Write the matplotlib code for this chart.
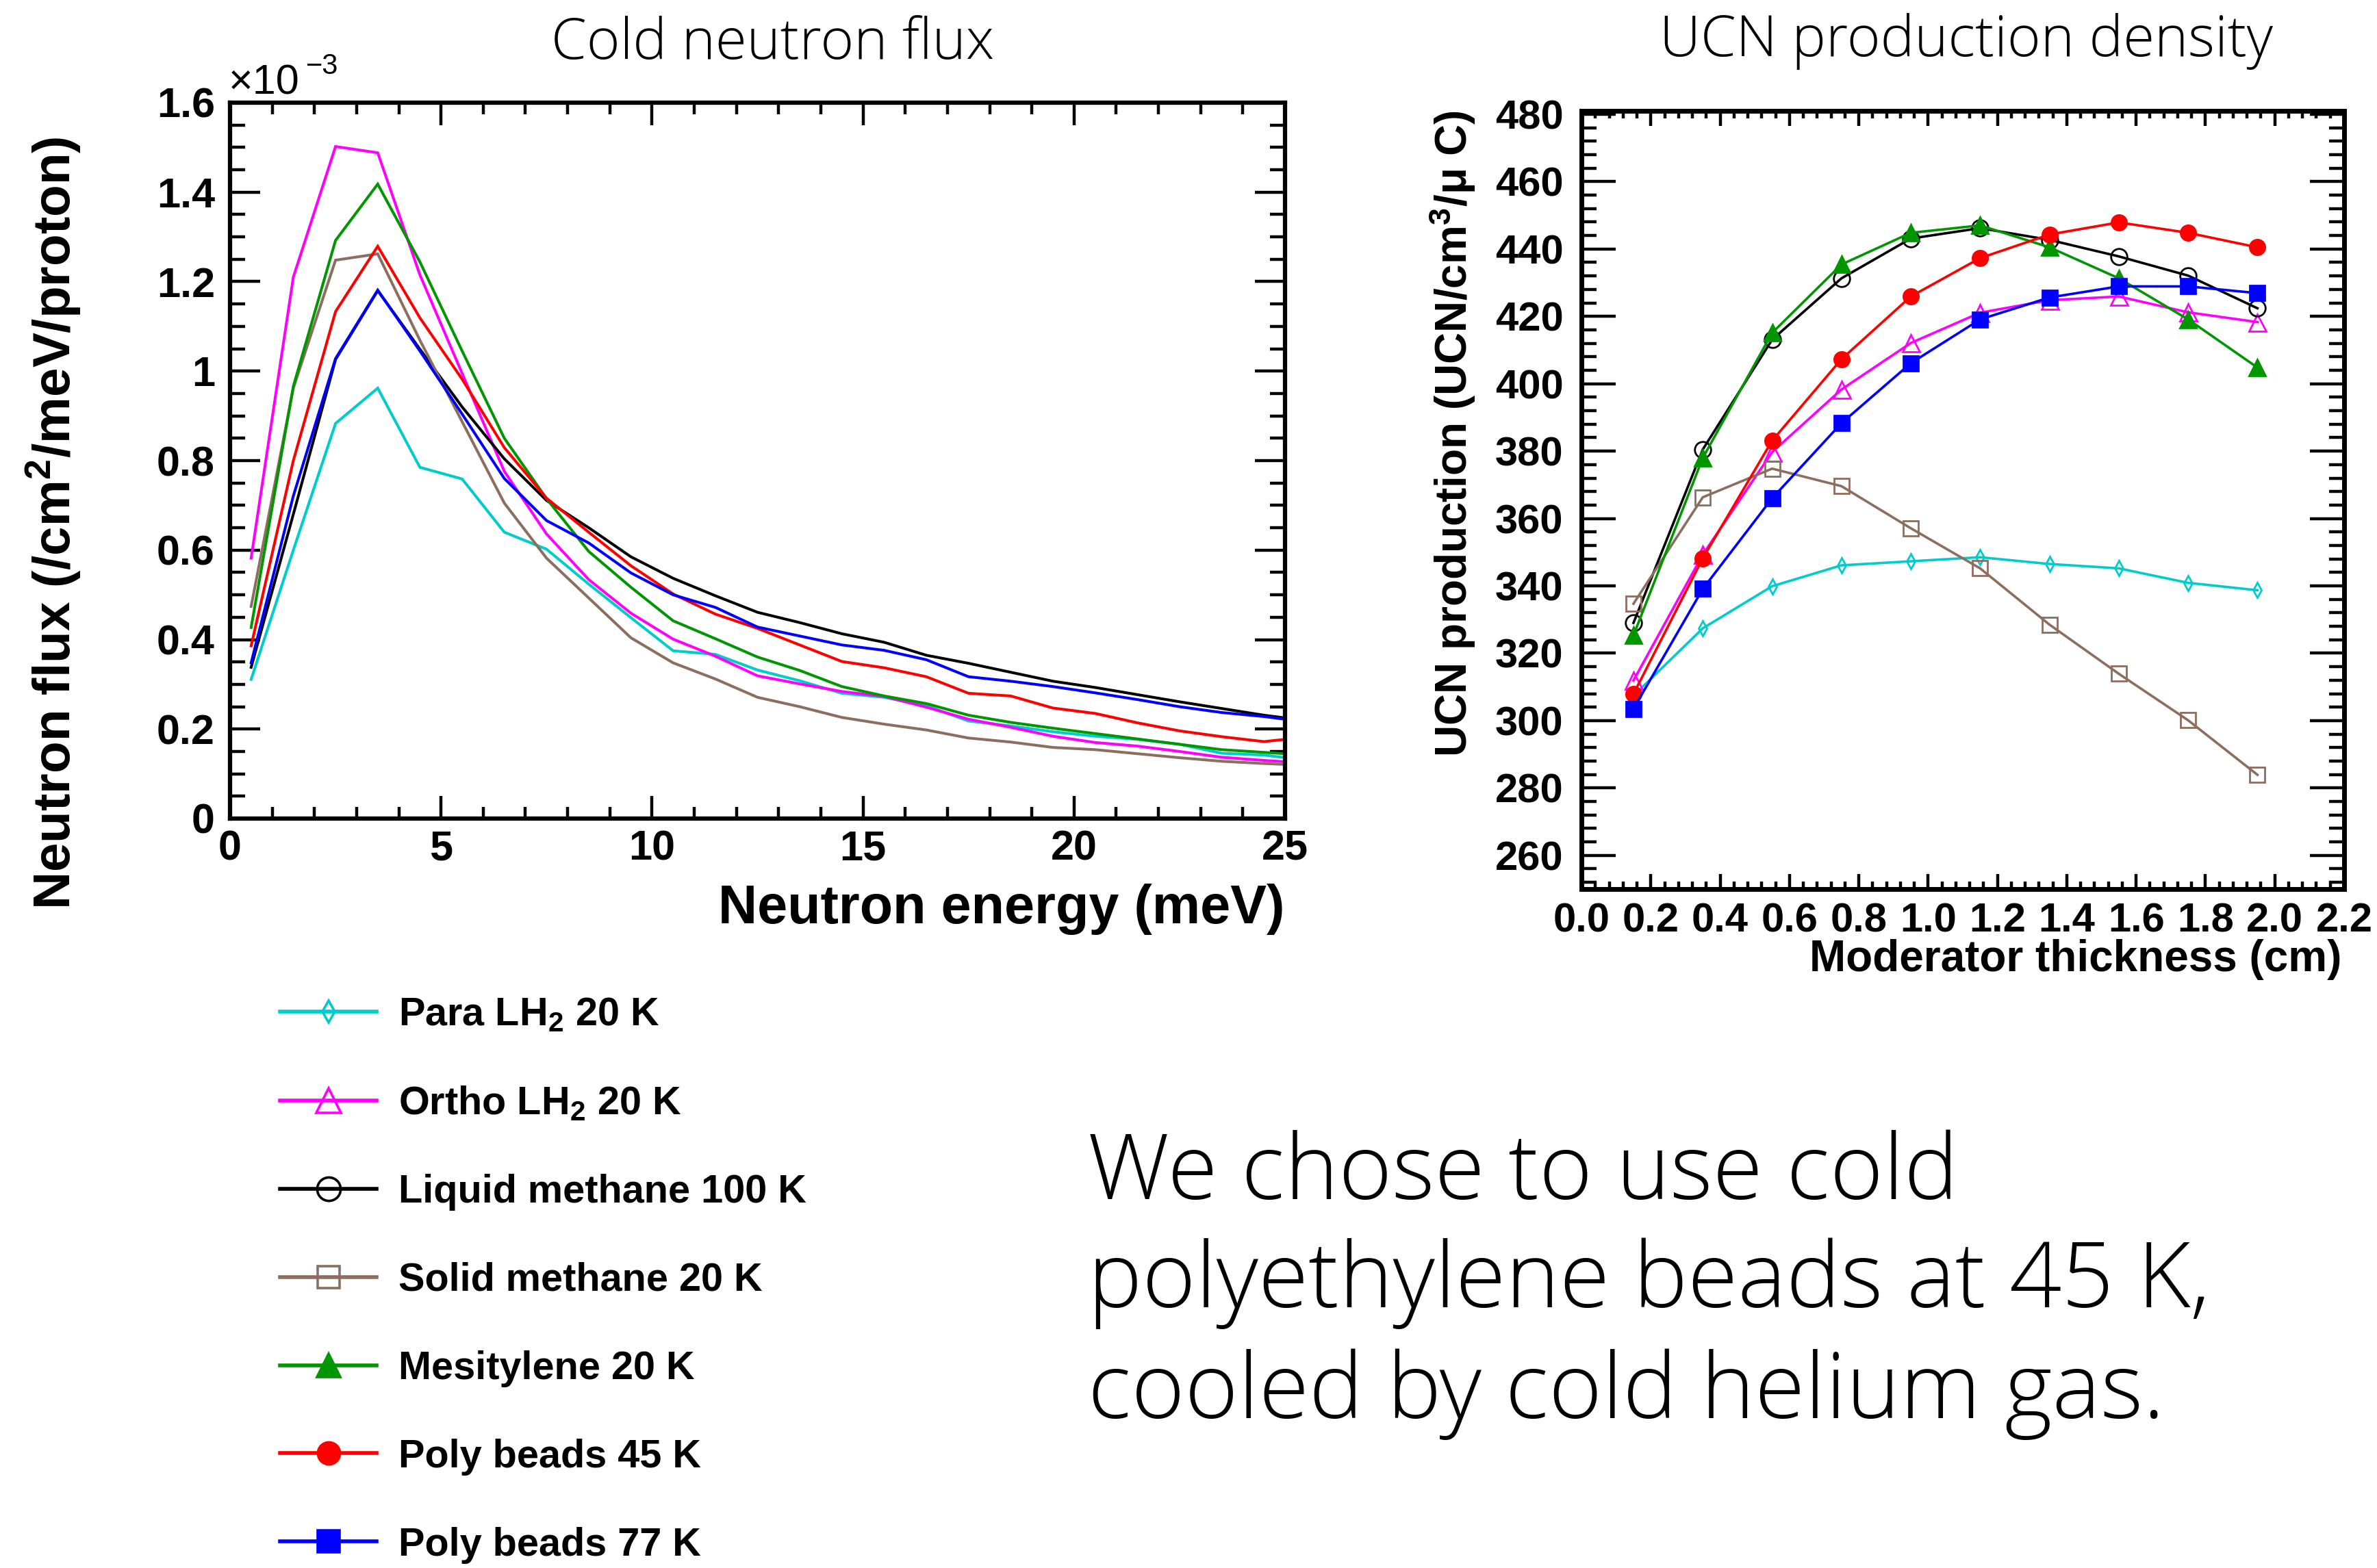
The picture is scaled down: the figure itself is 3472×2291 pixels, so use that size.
import matplotlib
matplotlib.use("Agg")
import matplotlib.pyplot as plt
from matplotlib.lines import Line2D
from matplotlib.ticker import AutoMinorLocator, FixedLocator, MultipleLocator
import numpy as np

plt.rcParams['font.family'] = 'Liberation Sans'
plt.rcParams['font.weight'] = 'bold'
plt.rcParams['mathtext.fontset'] = 'custom'
plt.rcParams['mathtext.rm'] = 'Liberation Sans:bold'
plt.rcParams['mathtext.it'] = 'Liberation Sans:bold'
plt.rcParams['mathtext.bf'] = 'Liberation Sans:bold'

LIGHT = 'Open Sans'

# ---- cold neutron flux spectra (units of 1e-3 /cm2/meV/proton), bin centres in meV
energy = np.arange(0.5, 26.0, 1.0)
flux_para = [0.311, 0.600, 0.883, 0.962, 0.785, 0.759, 0.640, 0.602, 0.524, 0.449, 0.375, 0.367, 0.332,
             0.308, 0.280, 0.271, 0.252, 0.218, 0.207, 0.194, 0.184, 0.177, 0.166, 0.146, 0.142, 0.130]
flux_ortho = [0.582, 1.210, 1.502, 1.488, 1.215, 0.995, 0.776, 0.636, 0.534, 0.459, 0.401, 0.363, 0.319,
              0.301, 0.284, 0.273, 0.249, 0.222, 0.204, 0.184, 0.170, 0.162, 0.150, 0.137, 0.130, 0.124]
flux_liqch4 = [0.338, 0.680, 1.026, 1.180, 1.049, 0.920, 0.804, 0.711, 0.650, 0.585, 0.537, 0.498, 0.461,
               0.438, 0.413, 0.394, 0.365, 0.347, 0.327, 0.307, 0.293, 0.277, 0.261, 0.246, 0.231, 0.219]
flux_solch4 = [0.474, 0.962, 1.248, 1.262, 1.069, 0.887, 0.705, 0.582, 0.493, 0.404, 0.348, 0.312, 0.271,
               0.250, 0.226, 0.211, 0.198, 0.180, 0.171, 0.159, 0.154, 0.145, 0.136, 0.128, 0.123, 0.119]
flux_mesit = [0.427, 0.966, 1.292, 1.418, 1.244, 1.045, 0.850, 0.715, 0.597, 0.517, 0.442, 0.402, 0.361,
              0.331, 0.295, 0.274, 0.257, 0.231, 0.215, 0.202, 0.190, 0.178, 0.166, 0.154, 0.148, 0.142]
flux_poly45 = [0.386, 0.800, 1.133, 1.279, 1.119, 0.982, 0.829, 0.716, 0.640, 0.565, 0.502, 0.457, 0.425,
               0.388, 0.351, 0.337, 0.317, 0.280, 0.274, 0.247, 0.235, 0.214, 0.196, 0.183, 0.172, 0.182]
flux_poly77 = [0.348, 0.721, 1.028, 1.181, 1.045, 0.904, 0.760, 0.666, 0.616, 0.549, 0.500, 0.472, 0.428,
               0.408, 0.388, 0.376, 0.355, 0.317, 0.307, 0.295, 0.281, 0.266, 0.250, 0.237, 0.228, 0.216]

# ---- UCN production density vs moderator thickness (cm)
thickness = [0.15, 0.35, 0.55, 0.75, 0.95, 1.15, 1.35, 1.55, 1.75, 1.95]
ucn_para = [307.4, 327.4, 339.9, 346.1, 347.3, 348.5, 346.5, 345.2, 340.9, 338.7]
ucn_ortho = [311.9, 349.3, 379.7, 398.3, 412.1, 421.1, 424.8, 425.9, 421.2, 418.3]
ucn_liqch4 = [329.0, 380.5, 413.1, 431.3, 443.1, 446.2, 442.7, 437.8, 432.1, 422.4]
ucn_solch4 = [334.7, 366.3, 374.8, 369.6, 357.1, 345.2, 328.5, 313.9, 300.1, 283.9]
ucn_mesit = [325.3, 378.0, 415.1, 435.4, 444.8, 447.0, 440.5, 431.3, 419.1, 404.8]
ucn_poly45 = [307.9, 348.2, 383.1, 407.3, 425.9, 437.3, 444.3, 447.9, 444.8, 440.5]
ucn_poly77 = [303.5, 339.1, 366.0, 388.3, 406.1, 419.1, 425.6, 428.9, 428.9, 426.9]

labels = ['Para LH$_2$ 20 K', 'Ortho LH$_2$ 20 K', 'Liquid methane 100 K', 'Solid methane 20 K',
          'Mesitylene 20 K', 'Poly beads 45 K', 'Poly beads 77 K']
colors = ['#00CCCC', '#FF00FF', '#000000', '#8C6E5F', '#009600', '#FF0000', '#0000FF']
markers = ['d', '^', 'o', 's', '^', 'o', 's']
filled = [False, False, False, False, True, True, True]
msizes = [11, 18, 17, 16, 17, 16, 16]

flux_sets = [flux_para, flux_ortho, flux_liqch4, flux_solch4, flux_mesit, flux_poly45, flux_poly77]
ucn_sets = [ucn_para, ucn_ortho, ucn_liqch4, ucn_solch4, ucn_mesit, ucn_poly45, ucn_poly77]

W, H = 3472, 2291
fig = plt.figure(figsize=(W / 100, H / 100), dpi=100)


def frac_x(px):
    return px / W


def frac_y(px):
    return 1 - px / H


# ---------------- left: flux spectra ----------------
ax1 = fig.add_axes([frac_x(336), frac_y(1196), (1877 - 336) / W, (1196 - 150) / H])
for y, c in zip(flux_sets, colors):
    ax1.plot(energy, y, color=c, lw=2.9, solid_joinstyle='miter')
ax1.set_xlim(0, 25)
ax1.set_ylim(0, 1.6)
ax1.xaxis.set_major_locator(MultipleLocator(5))
ax1.xaxis.set_minor_locator(AutoMinorLocator(5))
ax1.yaxis.set_major_locator(FixedLocator(np.arange(0, 1.61, 0.2)))
ax1.set_yticklabels(['0', '0.2', '0.4', '0.6', '0.8', '1', '1.2', '1.4', '1.6'])
ax1.yaxis.set_minor_locator(AutoMinorLocator(4))
ax1.tick_params(which='both', direction='in', top=True, right=True, width=3.2, labelsize=44)
ax1.tick_params(axis='x', which='major', length=24, pad=12)
ax1.tick_params(axis='x', which='minor', length=12)
ax1.tick_params(axis='y', which='major', length=32, pad=16)
ax1.tick_params(axis='y', which='minor', length=16)
for s in ax1.spines.values():
    s.set_linewidth(4.5)

# exponent of the flux axis
fig.text(frac_x(334), frac_y(138), '×10', fontsize=44, weight='normal', ha='left', va='baseline')
fig.text(frac_x(447), frac_y(108), '−3', fontsize=30, weight='normal', ha='left', va='baseline')
fig.text(frac_x(78), frac_y(764), 'Neutron flux (/cm$^2$/meV/proton)', fontsize=55,
         rotation=90, ha='center', va='center')
fig.text(frac_x(1877), frac_y(1328), 'Neutron energy (meV)', fontsize=57, ha='right', va='center')
fig.text(frac_x(1129), frac_y(86), 'Cold neutron flux', fontsize=60, family=LIGHT,
         weight='light', ha='center', va='baseline')

# ---------------- right: UCN production ----------------
ax2 = fig.add_axes([frac_x(2310), frac_y(1299), (3424 - 2310) / W, (1299 - 162) / H])
for y, c, m, f, ms in zip(ucn_sets, colors, markers, filled, msizes):
    ax2.plot(thickness, y, color=c, lw=2.6, marker=m, ms=ms, mew=2.0,
             mfc=c if f else 'none', mec=c, clip_on=False)
ax2.set_xlim(0, 2.2)
ax2.set_ylim(250, 481)
ax2.xaxis.set_major_locator(MultipleLocator(0.2))
ax2.xaxis.set_minor_locator(AutoMinorLocator(5))
ax2.xaxis.set_major_formatter(matplotlib.ticker.FormatStrFormatter('%.1f'))
ax2.yaxis.set_major_locator(FixedLocator(np.arange(260, 481, 20)))
ax2.yaxis.set_minor_locator(MultipleLocator(4))
ax2.tick_params(which='both', direction='in', top=True, right=True, width=3.2, labelsize=43)
ax2.tick_params(axis='x', which='major', length=16, pad=14)
ax2.tick_params(axis='x', which='minor', length=8)
ax2.tick_params(axis='y', which='major', length=36, pad=19)
ax2.tick_params(axis='y', which='minor', length=16)
for s in ax2.spines.values():
    s.set_linewidth(5)

fig.text(frac_x(2121), frac_y(633), 'UCN production (UCN/cm$^3$/μ C)', fontsize=46,
         rotation=90, ha='center', va='center')
fig.text(frac_x(3420), frac_y(1402), 'Moderator thickness (cm)', fontsize=46, ha='right', va='center')
fig.text(frac_x(2872), frac_y(82), 'UCN production density', fontsize=60, family=LIGHT,
         weight='light', ha='center', va='baseline')

# ---------------- legend ----------------
handles = [Line2D([], [], color=c, lw=4, marker=m, ms=ms * 1.45, mew=2.6,
                  mfc=c if f else 'none', mec=c)
           for c, m, f, ms in zip(colors, markers, filled, msizes)]
fig.legend(handles, labels, loc='upper left', bbox_to_anchor=(frac_x(409), frac_y(1456)),
           frameon=False, fontsize=41.5, handlelength=2.45, handletextpad=0.55,
           labelspacing=1.30, borderpad=0, borderaxespad=0)

# ---------------- note ----------------
note = ['We chose to use cold', 'polyethylene beads at 45 K,', 'cooled by cold helium gas.']
for line, base in zip(note, [1752, 1910, 2072]):
    fig.text(frac_x(1589), frac_y(base), line, fontsize=96, family=LIGHT, weight='light',
             ha='left', va='baseline')

fig.savefig('out.png', dpi=100)
